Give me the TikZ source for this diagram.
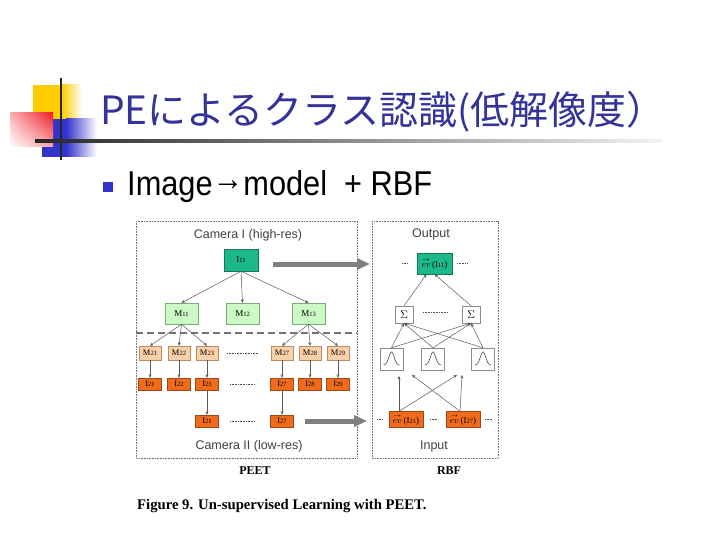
\documentclass[tikz,border=0pt]{standalone}
\usepackage{fontspec}
\setmainfont{Liberation Serif}
\newfontfamily\jpfont{Noto Sans CJK JP}
\newfontfamily\arialfont{Liberation Sans}
\usetikzlibrary{arrows.meta,shadings}
\definecolor{titleblue}{RGB}{51,51,153}
\definecolor{bulletblue}{RGB}{51,51,204}
\definecolor{decoyellow}{RGB}{255,204,0}
\definecolor{decored}{RGB}{240,30,40}
\definecolor{tealfill}{RGB}{28,184,140}
\definecolor{tealedge}{RGB}{20,120,90}
\definecolor{mgreenfill}{RGB}{204,250,196}
\definecolor{mgreenedge}{RGB}{120,175,120}
\definecolor{tanfill}{RGB}{250,208,168}
\definecolor{tanedge}{RGB}{190,140,100}
\definecolor{orangefill}{RGB}{240,108,28}
\definecolor{orangeedge}{RGB}{160,70,20}
\newcommand\boxlab[2]{#1{\fontsize{6.5}{6.5}\selectfont #2}}
\newcommand\evlab[1]{$\stackrel{\rightarrow}{ev}$\,(\boxlab{I}{#1})}
\tikzset{
  box/.style={draw, inner sep=0pt, font=\fontsize{8.5}{8.5}\selectfont},
  topbox/.style={box, fill=tealfill, draw=tealedge, minimum width=34, minimum height=22},
  mgreen/.style={box, fill=mgreenfill, draw=mgreenedge, minimum width=33, minimum height=21},
  mtan/.style={box, fill=tanfill, draw=tanedge, minimum width=22, minimum height=14},
  iorange/.style={box, fill=orangefill, draw=orangeedge, minimum width=23, minimum height=12},
  sumbox/.style={box, fill=white, draw=black!45, minimum width=18, minimum height=17, font=\fontsize{11}{11}\selectfont},
  gaussbox/.style={box, fill=white, draw=black!45, minimum width=23, minimum height=22},
  inbox/.style={box, fill=orangefill, draw=orangeedge, minimum width=34, minimum height=16, font=\fontsize{9}{9}\selectfont},
  arr/.style={-{Stealth[length=3.5pt,width=3pt]}, draw=black!65, line width=0.5pt},
  fatarr/.style={-{Triangle[length=13pt,width=11pt]}, line width=5pt, draw=black!50},
  panel/.style={draw=black!55, dash pattern=on 0.8pt off 0.8pt, line width=0.8pt},
  dotline/.style={dash pattern=on 0.8pt off 0.8pt, line width=0.8pt, draw=black!70},
  caption/.style={inner sep=0pt, font=\arialfont\fontsize{12.5}{12.5}\selectfont, text=black!75}
}
\begin{document}
\begin{tikzpicture}[x=1pt,y=-1pt]
\useasboundingbox[fill=white] (0,0) rectangle (720,540);

% slide decoration
\fill[decoyellow] (33,85) rectangle (62,120);
\shade[left color=decoyellow, right color=white] (62,85) rectangle (82,120);
\fill[bulletblue] (42,119) rectangle (66,157);
\shade[left color=bulletblue, right color=white] (66,119) rectangle (97,157);
\shade[upper right=decored, upper left=decored!35!white, lower right=decored!40!white, lower left=white] (10,113) rectangle (53,147);
\draw[line width=2.2pt, black!85] (61,78) -- (61,160);
\shade[left color=black!85, right color=black!5] (35,139.5) rectangle (662,142.5);

% title and bullet
\node[anchor=base west, inner sep=0pt] (title) at (100,125)
  {\resizebox{565pt}{!}{\color{titleblue}\jpfont PEによるクラス認識(低解像度）}};
\node[fill=bulletblue, minimum size=10, inner sep=0pt] (bullet) at (107.5,187.5) {};
\node[anchor=base west, inner sep=0pt] (subtitle) at (127,195)
  {\scalebox{1}[1.12]{\resizebox{305pt}{!}{\arialfont Image\raisebox{0.12em}{→}model\ \ + RBF}}};

% PEET panel
\draw[panel] (136,221) rectangle (357,458);
\node[caption] (camone) at (248,235) {Camera I (high-res)};
\node[caption] (camtwo) at (249,446) {Camera II (low-res)};
\draw[dash pattern=on 7pt off 4pt, line width=1.5pt, black!55] (136,333) -- (357,333);

\node[topbox, font=\fontsize{9}{9}\selectfont] (I11) at (241,260) {\boxlab{I}{11}};
\node[mgreen, font=\fontsize{9}{9}\selectfont] (M11) at (181.5,313.5) {\boxlab{M}{11}};
\node[mgreen, font=\fontsize{9}{9}\selectfont] (M12) at (242.5,313.5) {\boxlab{M}{12}};
\node[mgreen, font=\fontsize{9}{9}\selectfont] (M13) at (308.5,313.5) {\boxlab{M}{13}};
\foreach \k/\xx in {1/150,2/179,3/207,7/282,8/310,9/338} {
  \node[mtan] (M2\k) at (\xx,353) {\boxlab{M}{2\k}};
  \node[iorange] (I2\k) at (\xx,384) {\boxlab{I}{2\k}};
  \draw[arr] (M2\k.south) -- (I2\k.north);
}
\node[iorange] (I21b) at (207,421) {\boxlab{I}{21}};
\node[iorange] (I27b) at (282,421) {\boxlab{I}{27}};
\draw[dotline] (227,353) -- (258,353);
\draw[dotline] (230,384) -- (255,384);
\draw[dotline] (230,421) -- (255,421);

\foreach \m in {M11,M12,M13} \draw[arr] (I11.south) -- (\m.north);
\foreach \k in {1,2,3} \draw[arr] (M11.south) -- (M2\k.north);
\foreach \k in {7,8,9} \draw[arr] (M13.south) -- (M2\k.north);
\draw[arr] (I23.south) -- (I21b.north);
\draw[arr] (I27.south) -- (I27b.north);

\node[font=\bfseries\fontsize{12}{12}\selectfont] (peet) at (255,471) {PEET};

% RBF panel
\draw[panel] (372,221) rectangle (498,458);
\node[caption] (outlab) at (431,234) {Output};
\node[caption] (inlab) at (434,446) {Input};

\node[topbox, minimum width=35, minimum height=21, font=\fontsize{9}{9}\selectfont] (out) at (434.5,263.5) {\evlab{11}};
\draw[dotline] (402,263) -- (408,263);
\draw[dotline] (457,263) -- (467,263);

\node[sumbox] (s1) at (404,314.5) {$\Sigma$};
\node[sumbox] (s2) at (471,314.5) {$\Sigma$};
\draw[dotline] (423,312) -- (448,312);

\node[gaussbox] (g1) at (391.5,359) {};
\node[gaussbox] (g2) at (433,359) {};
\node[gaussbox] (g3) at (483,359) {};
\foreach \g in {g1,g2,g3}
  \draw[black!70, line width=0.6pt, shift={(\g.center)}] plot[domain=-8:8, samples=40, smooth] (\x,{6-13*exp(-\x*\x/14)});

\node[inbox] (in1) at (406,419.5) {\evlab{21}};
\node[inbox] (in2) at (463,419.5) {\evlab{27}};
\draw[dotline] (377,419) -- (383,419);
\draw[dotline] (430,419) -- (438,419);
\draw[dotline] (485,419) -- (492,419);

\foreach \i in {1,2,3} \foreach \j in {1,2} \draw[arr] (g\i.north) -- (s\j.south);
\draw[arr] (s1.north) -- ([xshift=-8]out.south);
\draw[arr] (s2.north) -- (out.south);

\coordinate (tipA) at (399,376);
\coordinate (tipB) at (457,375);
\coordinate (tipC) at (412,375);
\coordinate (tipD) at (462,375);
\draw[arr] ([xshift=-7]in1.north) -- (tipA);
\draw[arr] ([xshift=-7]in1.north) -- (tipB);
\draw[arr] ([xshift=-3]in2.north) -- (tipC);
\draw[arr] ([xshift=-3]in2.north) -- (tipD);

\node[font=\bfseries\fontsize{12}{12}\selectfont] (rbf) at (449,471) {RBF};

% panel links
\coordinate (linkA) at (273,264);
\coordinate (linkB) at (370,264);
\coordinate (linkC) at (305,421);
\coordinate (linkD) at (367,421);
\draw[fatarr] (linkA) -- (linkB);
\draw[fatarr] (linkC) -- (linkD);

\node[anchor=west, inner sep=0pt, font=\bfseries\fontsize{14.7}{14.7}\selectfont] (figcap) at (137,506)
  {Figure 9. Un-supervised Learning with PEET.};
\end{tikzpicture}
\end{document}
